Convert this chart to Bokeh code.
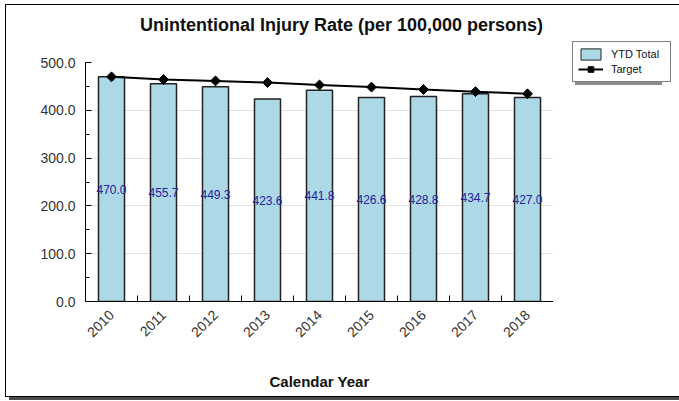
import math
from bokeh.plotting import figure
from bokeh.layouts import row, column
from bokeh.models import (ColumnDataSource, Legend, LegendItem, FactorRange, Range1d,
                          FixedTicker, PrintfTickFormatter, LabelSet, Label, Spacer)
from bokeh.transform import dodge
from bokeh.core.properties import value
from bokeh.embed import file_html
from bokeh.resources import INLINE

# ---- data ----
years = ["2010", "2011", "2012", "2013", "2014", "2015", "2016", "2017", "2018"]
ytd_total = [470.0, 455.7, 449.3, 423.6, 441.8, 426.6, 428.8, 434.7, 427.0]
target = [470.0, 464.5, 461.5, 458.0, 453.0, 448.5, 443.5, 439.0, 434.5]
y_ticks = [0, 100, 200, 300, 400, 500]
y_minor_ticks = [50, 150, 250, 350, 450]
series_names = ["YTD Total", "Target"]
title_text = "Unintentional Injury Rate (per 100,000 persons)"
x_title = "Calendar Year"

FONT = "Liberation Sans"
BAR_FILL = "#add8e6"
BAR_LINE = "#222222"

src = ColumnDataSource(dict(
    years=years,
    ytd=ytd_total,
    target=target,
    label=[f"{v:.1f}" for v in ytd_total],
    label_y=[v / 2 for v in ytd_total],
    zero=[0] * len(years),
))

TITLE_H = 47
PLOT_H = 344
TOTAL_H = TITLE_H + PLOT_H
PLOT_W = 547
LEG_W = 130


def bare(fig):
    fig.title.text = ""
    fig.title.visible = False
    fig.title.standoff = 0
    fig.outline_line_color = None
    return fig


# ---- title strip (its frame is aligned with the plot frame below it) ----
t = figure(width=PLOT_W, height=TITLE_H, x_range=Range1d(0, 1), y_range=Range1d(0, TITLE_H),
           x_axis_location=None, y_axis_location=None, min_border=0,
           output_backend="svg", toolbar_location=None,
           background_fill_color="white", border_fill_color="white")
bare(t)
t.grid.visible = False
t.add_layout(Label(x=0.547, y=28, text=title_text, text_align="center", text_baseline="middle",
                   text_font=FONT, text_font_size="18px", text_font_style="bold",
                   text_color="#111111"))

# ---- main plot ----
p = figure(
    width=PLOT_W, height=PLOT_H,
    x_range=FactorRange(factors=years, range_padding=0),
    y_range=Range1d(0, 500),
    output_backend="svg", toolbar_location=None,
    min_border_left=79, min_border_right=0, min_border_top=10, min_border_bottom=95,
    background_fill_color="white", border_fill_color="white",
)
bare(p)

bars = p.vbar(x="years", top="ytd", width=0.5, source=src,
              fill_color=BAR_FILL, line_color=BAR_LINE, line_width=1.5)

tline = p.line(x="years", y="target", source=src, line_color="black", line_width=2)
tpts = p.scatter(x="years", y="target", source=src, marker="square", angle=math.pi / 4,
                 size=7, fill_color="black", line_color="black")

# boundary tick marks on x axis (between categories)
p.scatter(x=dodge("years", 0.5, range=p.x_range), y="zero", source=src, marker="dash",
          angle=math.pi / 2, size=12, line_color="black", line_width=1)

labels = LabelSet(x="years", y="label_y", text="label", source=src,
                  text_align="center", text_baseline="middle",
                  text_color="#23239f", text_font=value(FONT), text_font_size="12px")
p.add_layout(labels)

p.yaxis.ticker = FixedTicker(ticks=y_ticks, minor_ticks=y_minor_ticks)
p.yaxis.formatter = PrintfTickFormatter(format="%.1f")
p.yaxis.major_tick_in = 6
p.yaxis.major_tick_out = 0
p.yaxis.minor_tick_in = 4
p.yaxis.minor_tick_out = 0
p.yaxis.major_label_text_font = FONT
p.yaxis.major_label_text_font_size = "14px"
p.yaxis.major_label_text_color = "#333333"
p.yaxis.major_label_standoff = 10
p.yaxis.axis_line_color = "black"

p.xaxis.major_tick_line_color = None
p.xaxis.major_label_orientation = math.pi / 4
p.xaxis.major_label_text_font = FONT
p.xaxis.major_label_text_font_size = "14px"
p.xaxis.major_label_text_color = "#333333"
p.xaxis.axis_line_color = "black"
p.xaxis.axis_label = x_title
p.xaxis.axis_label_text_font = FONT
p.xaxis.axis_label_text_font_size = "15px"
p.xaxis.axis_label_text_font_style = "bold"
p.xaxis.axis_label_text_color = "#111111"
p.xaxis.axis_label_standoff = 28

p.xgrid.grid_line_color = None
p.ygrid.grid_line_color = "#e3e3e3"
p.ygrid.ticker = FixedTicker(ticks=y_ticks)

# ---- legend panel to the right of the plot area ----
q = figure(width=LEG_W, height=TOTAL_H, x_range=Range1d(0, 1), y_range=Range1d(0, 1),
           x_axis_location=None, y_axis_location=None,
           min_border_left=19, min_border_top=0, min_border_right=0, min_border_bottom=0,
           output_backend="svg", toolbar_location=None,
           background_fill_color="white", border_fill_color="white")
bare(q)
q.grid.visible = False
# legend swatches (kept outside the visible ranges of this panel)
lg_bar = q.vbar(x=[5], top=[5], bottom=[4], width=0.5, fill_color=BAR_FILL,
                line_color=BAR_LINE, line_width=1)
lg_line = q.line(x=[5, 6], y=[5, 5], line_color="black", line_width=2)
lg_pts = q.scatter(x=[5], y=[5], marker="square", angle=math.pi / 4, size=7,
                   fill_color="black", line_color="black")
lg_none = q.scatter(x=[5], y=[5], marker="square", size=1, fill_alpha=0, line_alpha=0)


def style_legend(lg):
    lg.label_text_font = FONT
    lg.label_text_font_size = "11px"
    lg.glyph_width = 25
    lg.glyph_height = 14
    lg.label_height = 14
    lg.label_width = 54
    lg.label_standoff = 8
    lg.spacing = 1
    lg.padding = 5
    lg.margin = 0


# drop shadow of the legend box
shadow = Legend(items=[LegendItem(label=" ", renderers=[lg_none]),
                       LegendItem(label=" ", renderers=[lg_none])],
                location=(3, 311))
style_legend(shadow)
shadow.border_line_color = None
shadow.background_fill_color = "#8c8c8c"
shadow.background_fill_alpha = 1
shadow.label_text_alpha = 0
q.add_layout(shadow)

legend = Legend(items=[LegendItem(label=series_names[0], renderers=[lg_bar]),
                       LegendItem(label=series_names[1], renderers=[lg_line, lg_pts])],
                location=(0, 314))
style_legend(legend)
legend.border_line_color = "black"
legend.border_line_width = 1
legend.background_fill_color = "white"
legend.background_fill_alpha = 1
legend.label_text_color = "#111111"
q.add_layout(legend)

box = row(column(t, p, spacing=0), q, spacing=0)
box.styles = {"border": "1px solid #000000", "box-shadow": "4px 3px 0 #4a4a4a",
              "background-color": "white"}

page = column(Spacer(height=4), row(Spacer(width=5), box, spacing=0), spacing=0)

open("out.html", "w").write(file_html(page, INLINE))
